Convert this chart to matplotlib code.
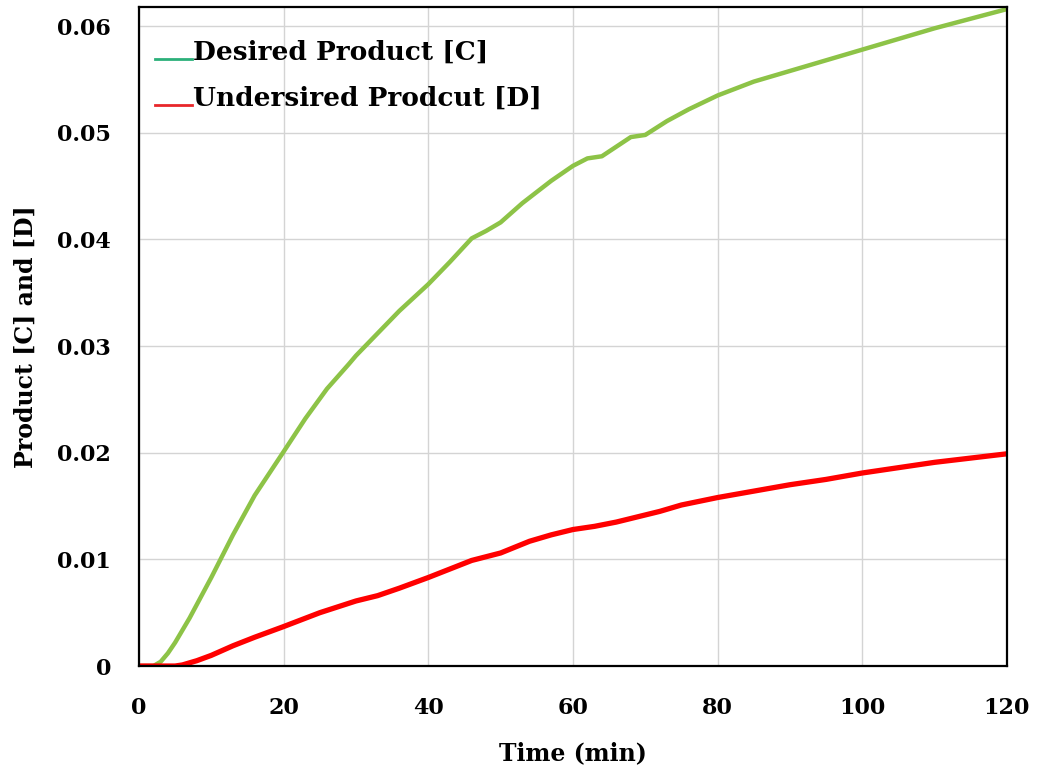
import matplotlib.pyplot as plt
from matplotlib.legend_handler import HandlerLine2D
from matplotlib.lines import Line2D

# time (min)
t_c = [0, 1, 2, 3, 4, 5, 7, 10, 13, 16, 20, 23, 26, 29, 30, 32, 36, 40, 43, 46,
       48, 50, 53, 57, 60, 62, 64, 66, 68, 70, 73, 76, 80, 85, 90, 95, 100, 105,
       110, 115, 120]
conc_c = [0, 0, 0, 0.0004, 0.0012, 0.0022, 0.0045, 0.0083, 0.0123, 0.0160,
          0.0201, 0.0232, 0.0260, 0.0283, 0.0291, 0.0305, 0.0333, 0.0358, 0.0379,
          0.0401, 0.0408, 0.0416, 0.0434, 0.0455, 0.0469, 0.0476, 0.0478, 0.0487,
          0.0496, 0.0498, 0.0511, 0.0522, 0.0535, 0.0548, 0.0558, 0.0568, 0.0578,
          0.0588, 0.0598, 0.0607, 0.0616]

t_d = [0, 2, 4, 5, 6, 8, 10, 13, 16, 20, 25, 30, 33, 36, 40, 43, 46, 50, 54, 57,
       60, 63, 66, 69, 72, 75, 80, 85, 90, 95, 100, 105, 110, 115, 120]
conc_d = [0, 0, 0, 0, 0.0001, 0.0005, 0.0010, 0.0019, 0.0027, 0.0037, 0.0050,
          0.0061, 0.0066, 0.0073, 0.0083, 0.0091, 0.0099, 0.0106, 0.0117, 0.0123,
          0.0128, 0.0131, 0.0135, 0.0140, 0.0145, 0.0151, 0.0158, 0.0164, 0.0170,
          0.0175, 0.0181, 0.0186, 0.0191, 0.0195, 0.0199]

labels = ["Desired Product [C]", "Undersired Prodcut [D]"]


class LowLine(HandlerLine2D):
    # legend line drawn at the text baseline, like an underscore
    def create_artists(self, legend, orig_handle, xdescent, ydescent, width,
                       height, fontsize, trans):
        arts = super().create_artists(legend, orig_handle, xdescent, ydescent,
                                      width, height, fontsize, trans)
        for a in arts:
            a.set_ydata([-ydescent] * len(a.get_xdata()))
        return arts


plt.rcParams['font.family'] = ['DejaVu Serif']
plt.rcParams['font.weight'] = 'bold'
plt.rcParams['axes.labelweight'] = 'bold'

fig = plt.figure(figsize=(10.37, 7.74), dpi=100)
ax = fig.add_axes([0.134, 0.1395, 0.837, 0.8515])

ax.plot(t_c, conc_c, color="#8dc347", lw=3.2)
ax.plot(t_d, conc_d, color="#ff0000", lw=3.8)

ax.set_xlim(0, 120)
ax.set_ylim(0, 0.0618)
ax.set_xticks([0, 20, 40, 60, 80, 100, 120])
ax.set_yticks([0, 0.01, 0.02, 0.03, 0.04, 0.05, 0.06])
ax.set_yticklabels(["0", "0.01", "0.02", "0.03", "0.04", "0.05", "0.06"])
ax.tick_params(length=0, labelsize=16)
ax.tick_params(axis='x', pad=22)
ax.tick_params(axis='y', pad=20)
ax.grid(True, color="#d4d4d4", lw=1)
for s in ax.spines.values():
    s.set_linewidth(1.6)
    s.set_color("black")

ax.set_xlabel("Time (min)", fontsize=17, labelpad=16)
ax.set_ylabel("Product [C] and [D]", fontsize=17, labelpad=14)

handles = [Line2D([], [], color="#2bb07a", lw=2),
           Line2D([], [], color="#e8262a", lw=2)]
ax.legend(handles, labels, loc="upper left", frameon=False, fontsize=19,
          handlelength=1.4, handletextpad=0.05, labelspacing=0.8,
          bbox_to_anchor=(0.0, 0.975), borderaxespad=0.2,
          handler_map={Line2D: LowLine()})

fig.savefig("out.png", dpi=100)
